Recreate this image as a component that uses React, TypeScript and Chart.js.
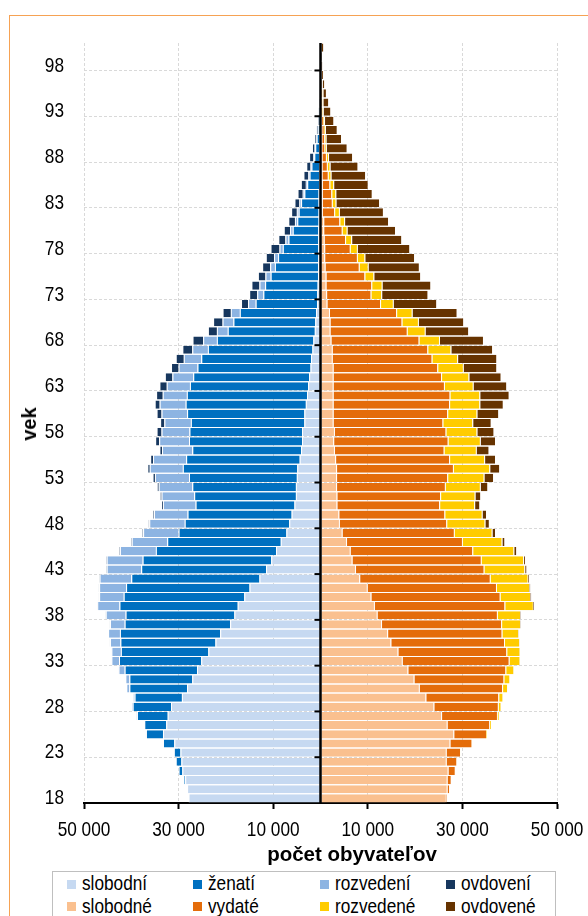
import React, { useEffect, useRef } from "react";
import { Chart, registerables } from "chart.js";

Chart.register(...registerables);

// ages 18 .. 100 (category axis, bottom to top)
const ages = [
  18, 19, 20, 21, 22, 23, 24, 25, 26, 27,
  28, 29, 30, 31, 32, 33, 34, 35, 36, 37,
  38, 39, 40, 41, 42, 43, 44, 45, 46, 47,
  48, 49, 50, 51, 52, 53, 54, 55, 56, 57,
  58, 59, 60, 61, 62, 63, 64, 65, 66, 67,
  68, 69, 70, 71, 72, 73, 74, 75, 76, 77,
  78, 79, 80, 81, 82, 83, 84, 85, 86, 87,
  88, 89, 90, 91, 92, 93, 94, 95, 96, 97,
  98, 99, 100,
];

// ages that carry a tick label
const tickAges = [18, 23, 28, 33, 38, 43, 48, 53, 58, 63, 68, 73, 78, 83, 88, 93, 98];

// x-axis range / step (thousands of people)
const xMin = -50;
const xMax = 50;
const xStep = 20;

// values in thousands of people, index = age 18 .. 100
const menSingle = [
  27.9, 28.2, 28.6, 29.2, 29.4, 29.6, 30.9, 33.3, 32.6, 32.3,
  31.6, 29.3, 28.2, 27.1, 26.1, 25.2, 23.7, 22.2, 21.2, 19.1,
  18.2, 17.5, 16.1, 15.0, 12.9, 11.5, 10.4, 9.4, 8.4, 7.2,
  6.6, 6.1, 5.5, 5.2, 5.2, 5.0, 4.9, 4.4, 4.1, 3.9,
  3.9, 3.4, 3.4, 3.1, 2.85, 2.6, 2.4, 2.1, 2.0, 1.7,
  1.5, 1.2, 1.1, 0.95, 0.7, 0.67, 0.6, 0.53, 0.53, 0.46,
  0.46, 0.46, 0.46, 0.4, 0.4, 0.4, 0.4, 0.3, 0.3, 0.3,
  0.25, 0.25, 0.2, 0.15, 0.1, 0.1, 0.05, 0.03, 0.02, 0.01,
  0.01, 0.005, 0.005,
];
const menMarried = [
  0.02, 0.05, 0.3, 0.8, 1.2, 1.4, 2.4, 3.6, 4.65, 6.5,
  8.1, 10.0, 12.2, 13.3, 15.3, 17.4, 18.5, 20.1, 21.2, 22.3,
  23.0, 25.0, 25.5, 26.1, 27.1, 26.4, 27.2, 25.4, 24.0, 22.8,
  22.1, 22.0, 20.9, 21.5, 21.9, 22.8, 24.2, 24.0, 23.0, 23.9,
  23.8, 24.0, 24.8, 25.4, 25.4, 25.0, 24.5, 23.9, 23.2, 22.1,
  20.4, 18.4, 17.3, 16.1, 13.0, 11.4, 11.1, 10.0, 9.1, 8.5,
  7.5, 6.3, 5.4, 4.5, 4.2, 3.7, 3.0, 2.5, 2.0, 1.6,
  1.05, 0.85, 0.6, 0.4, 0.25, 0.15, 0.1, 0.06, 0.04, 0.02,
  0.01, 0.01, 0,
];
const menDivorced = [
  0, 0, 0, 0, 0, 0.02, 0.03, 0.05, 0.08, 0.12,
  0.2, 0.35, 0.65, 0.85, 1.3, 1.6, 2.0, 2.2, 2.5, 3.1,
  4.2, 4.7, 5.2, 5.7, 6.7, 7.3, 7.6, 7.6, 7.5, 7.5,
  7.5, 7.1, 6.9, 6.9, 7.1, 7.2, 7.0, 7.0, 6.4, 6.3,
  5.9, 5.6, 5.4, 5.5, 5.1, 4.9, 4.4, 4.0, 3.7, 3.3,
  2.9, 2.3, 2.3, 1.9, 1.6, 1.3, 1.2, 1.1, 1.0, 0.85,
  0.7, 0.65, 0.55, 0.5, 0.4, 0.35, 0.35, 0.3, 0.25, 0.2,
  0.2, 0.15, 0.08, 0.05, 0.04, 0.02, 0.01, 0.01, 0, 0,
  0, 0, 0,
];
const menWidowed = [
  0, 0, 0, 0, 0, 0, 0, 0, 0, 0,
  0.01, 0.01, 0.02, 0.02, 0.03, 0.03, 0.04, 0.05, 0.05, 0.06,
  0.07, 0.08, 0.09, 0.1, 0.1, 0.12, 0.13, 0.15, 0.15, 0.2,
  0.2, 0.2, 0.35, 0.35, 0.4, 0.5, 0.5, 0.6, 0.55, 0.85,
  1.05, 0.9, 1.05, 1.05, 1.4, 1.55, 1.6, 1.6, 1.7, 2.1,
  2.25, 1.9, 2.0, 1.75, 1.5, 1.7, 1.7, 1.6, 1.7, 1.75,
  1.9, 1.5, 1.35, 1.4, 1.2, 1.05, 1.1, 1.05, 1.05, 0.9,
  0.9, 0.55, 0.4, 0.3, 0.2, 0.15, 0.1, 0.07, 0.04, 0.03,
  0.02, 0.01, 0.01,
];
const womenSingle = [
  26.5, 26.7, 26.7, 26.9, 26.5, 26.5, 27.3, 28.1, 26.7, 25.5,
  23.9, 22.2, 20.8, 19.7, 18.4, 17.2, 16.3, 14.8, 14.1, 12.8,
  11.9, 11.3, 10.6, 9.8, 8.2, 7.3, 6.6, 6.2, 5.4, 4.5,
  3.9, 3.8, 3.4, 3.4, 3.3, 3.3, 3.3, 3.1, 2.85, 2.7,
  2.85, 2.6, 2.6, 2.6, 2.6, 2.6, 2.6, 2.6, 2.4, 2.4,
  2.15, 1.95, 1.95, 1.8, 1.3, 1.2, 1.1, 1.1, 0.9, 0.8,
  0.8, 0.7, 0.6, 0.6, 0.3, 0.3, 0.3, 0.3, 0.25, 0.25,
  0.25, 0.2, 0.2, 0.2, 0.15, 0.1, 0.1, 0.1, 0.07, 0.05,
  0.03, 0.02, 0.02,
];
const womenMarried = [
  0.2, 0.5, 0.85, 1.5, 2.25, 3.0, 4.65, 6.9, 9.0, 11.8,
  13.6, 15.4, 17.6, 19.0, 20.7, 22.6, 23.0, 24.0, 24.2, 25.4,
  25.4, 27.6, 27.3, 27.3, 27.6, 27.2, 27.3, 25.9, 24.5, 23.7,
  22.7, 22.4, 21.7, 21.9, 23.0, 23.5, 24.7, 24.1, 23.2, 24.2,
  23.6, 23.2, 24.2, 24.6, 24.7, 23.5, 22.9, 22.1, 21.1, 20.2,
  18.6, 16.3, 15.2, 14.2, 11.3, 9.4, 9.65, 8.2, 7.2, 6.9,
  5.4, 4.5, 3.9, 3.4, 2.6, 2.1, 2.0, 1.6, 1.3, 1.1,
  0.9, 0.65, 0.6, 0.5, 0.4, 0.25, 0.25, 0.25, 0.15, 0.07,
  0.03, 0.02, 0.02,
];
const womenDivorced = [
  0, 0, 0.02, 0.05, 0.05, 0.05, 0.1, 0.2, 0.35, 0.4,
  0.6, 0.9, 1.05, 1.25, 1.7, 2.3, 2.8, 3.2, 3.5, 4.0,
  4.9, 6.0, 6.4, 7.0, 8.0, 8.6, 8.95, 8.7, 8.4, 8.0,
  8.1, 7.9, 7.4, 7.3, 7.4, 7.7, 7.7, 7.4, 6.8, 6.8,
  6.55, 6.3, 6.2, 6.4, 6.3, 6.1, 5.8, 5.4, 5.4, 4.9,
  4.3, 3.8, 3.45, 3.3, 2.7, 2.25, 2.2, 1.9, 1.9, 1.6,
  1.5, 1.3, 1.05, 1.0, 1.0, 0.8, 0.85, 0.8, 0.6, 0.6,
  0.45, 0.3, 0.3, 0.25, 0.2, 0.15, 0.1, 0.1, 0.08, 0.03,
  0.02, 0.01, 0.01,
];
const womenWidowed = [
  0, 0, 0, 0, 0, 0, 0.01, 0.01, 0.01, 0.02,
  0.02, 0.03, 0.03, 0.04, 0.05, 0.06, 0.07, 0.08, 0.1, 0.12,
  0.15, 0.25, 0.25, 0.25, 0.3, 0.45, 0.4, 0.6, 0.6, 0.7,
  0.9, 0.9, 1.1, 1.2, 1.6, 2.0, 2.1, 2.3, 2.7, 3.2,
  3.6, 3.9, 4.6, 4.95, 6.2, 7.1, 6.8, 7.1, 8.3, 8.8,
  9.3, 9.2, 9.6, 9.5, 9.2, 9.8, 10.3, 9.9, 10.8, 10.5,
  11.1, 10.6, 10.2, 9.3, 9.3, 9.2, 7.7, 7.3, 7.3, 5.9,
  5.1, 4.4, 3.25, 2.5, 2.0, 1.6, 1.2, 0.7, 0.5, 0.4,
  0.3, 0.2, 0.55,
];

const seriesLabels = [
  "slobodní", "ženatí", "rozvedení", "ovdovení",
  "slobodné", "vydaté", "rozvedené", "ovdovené",
];
const seriesColors = [
  "#C6D9F1", "#0070C0", "#8DB4E2", "#17375E",
  "#FAC08F", "#E46C0A", "#FFCC00", "#663300",
];

const SANS = "'Liberation Sans', Arial, sans-serif";
// Arial Narrow is Arial at ~82% width: emulate with a horizontal squeeze
const NARROW_SCALE = 0.82;
const TICK_FONT = `21px ${SANS}`;

const fmt = (v: number) =>
  String(Math.round(Math.abs(v) * 1000)).replace(/\B(?=(\d{3})+(?!\d))/g, " ");

function narrowText(ctx: CanvasRenderingContext2D, text: string, x: number, y: number, align: CanvasTextAlign) {
  ctx.save();
  ctx.translate(x, y);
  ctx.scale(NARROW_SCALE, 1);
  ctx.textAlign = align;
  ctx.textBaseline = "middle";
  ctx.fillText(text, 0, 0);
  ctx.restore();
}

const centerAxis = {
  id: "centerAxis",
  afterDatasetsDraw(chart: any) {
    const { ctx, chartArea, scales } = chart;
    const x0 = scales.x.getPixelForValue(0);
    ctx.save();
    ctx.strokeStyle = "#000";
    ctx.lineWidth = 2.5;
    ctx.beginPath();
    ctx.moveTo(x0, chartArea.top);
    ctx.lineTo(x0, chartArea.bottom);
    ctx.stroke();
    ctx.lineWidth = 2;
    tickAges.forEach((a) => {
      const i = ages.indexOf(a);
      if (i <= 0) return;
      const y = (scales.y.getPixelForValue(i) + scales.y.getPixelForValue(i - 1)) / 2;
      ctx.beginPath();
      ctx.moveTo(x0 - 6, y);
      ctx.lineTo(x0, y);
      ctx.stroke();
    });
    ctx.restore();
  },
  afterDraw(chart: any) {
    const { ctx, chartArea, scales } = chart;
    ctx.save();
    ctx.fillStyle = "#000";
    ctx.font = TICK_FONT;
    // x tick labels
    scales.x.ticks.forEach((t: any) => {
      narrowText(ctx, fmt(t.value), scales.x.getPixelForValue(t.value), scales.x.top + 27, "center");
    });
    // y tick labels
    tickAges.forEach((a) => {
      const i = ages.indexOf(a);
      narrowText(ctx, String(a), chartArea.left - 20, scales.y.getPixelForValue(i), "right");
    });
    ctx.restore();
  },
};

export default function App() {
  const ref = useRef<HTMLCanvasElement | null>(null);

  useEffect(() => {
    if (!ref.current) return;
    const men = [menSingle, menMarried, menDivorced, menWidowed];
    const women = [womenSingle, womenMarried, womenDivorced, womenWidowed];
    const all = [
      ...men.map((arr) => arr.map((v) => -v)),
      ...women.map((arr) => arr.slice()),
    ];
    const tickIdx = tickAges.map((a) => ages.indexOf(a));
    const chart = new Chart(ref.current, {
      type: "bar",
      data: {
        labels: ages.map(String),
        datasets: all.map((d, k) => ({
          label: seriesLabels[k],
          data: d,
          backgroundColor: seriesColors[k],
          borderColor: "#FFFFFF",
          borderWidth: { left: 1, right: 0, top: 0, bottom: 0 },
          borderSkipped: false,
          stack: "pop",
          barPercentage: 0.89,
          categoryPercentage: 1.0,
        })),
      },
      options: {
        indexAxis: "y",
        responsive: false,
        maintainAspectRatio: false,
        animation: false,
        devicePixelRatio: 1,
        layout: { padding: { top: 43, right: 31, bottom: 0, left: 0 } },
        plugins: {
          legend: { display: false },
          tooltip: { enabled: false },
          title: { display: false },
        },
        scales: {
          x: {
            type: "linear",
            stacked: true,
            min: xMin,
            max: xMax,
            afterFit: (s: any) => {
              s.height = 113;
              s.paddingLeft = 0;
              s.paddingRight = 0;
            },
            afterBuildTicks: (s: any) => {
              const t = [];
              for (let v = xMin; v <= xMax; v += xStep) t.push({ value: v });
              s.ticks = t;
            },
            ticks: { display: false },
            grid: {
              color: "#D9D9D9",
              lineWidth: 1,
              drawTicks: true,
              tickLength: 6,
              tickColor: "#000",
              tickWidth: 2,
              tickBorderDash: [],
            },
            border: { display: true, color: "#000", width: 2, dash: [3, 2] },
          },
          y: {
            type: "category",
            stacked: true,
            reverse: true,
            offset: true,
            afterFit: (s: any) => {
              s.width = 84;
            },
            ticks: { display: false, autoSkip: false },
            grid: {
              offset: true,
              drawTicks: false,
              lineWidth: 1,
              color: (c: any) =>
                typeof c.index === "number" && c.index > 0 && tickIdx.includes(c.index)
                  ? "#D9D9D9"
                  : "rgba(0,0,0,0)",
            },
            border: { display: false, dash: [3, 2] },
          },
        },
      },
      plugins: [centerAxis],
    } as any);
    return () => chart.destroy();
  }, []);

  const legendCols = [66.5, 193, 319.5, 446];
  const legendRows = [884, 906.5];

  return (
    <div
      style={{
        position: "absolute",
        left: 0,
        top: 0,
        width: 588,
        height: 916,
        overflow: "hidden",
        background: "#fff",
      }}
    >
      <div
        style={{
          position: "absolute",
          left: 9,
          top: 15,
          width: 620,
          height: 940,
          border: "1.5px solid #F6A254",
          boxSizing: "border-box",
        }}
      />
      <canvas
        ref={ref}
        width={588}
        height={916}
        style={{ position: "absolute", left: 0, top: 0, width: 588, height: 916 }}
      />
      <div
        style={{
          position: "absolute",
          left: 29,
          top: 424,
          transform: "translate(-50%, -50%) rotate(-90deg)",
          font: `bold 20px ${SANS}`,
          lineHeight: "20px",
          color: "#000",
          whiteSpace: "nowrap",
        }}
      >
        vek
      </div>
      <div
        style={{
          position: "absolute",
          left: 352,
          top: 844,
          transform: "translateX(-50%)",
          font: `bold 20.5px ${SANS}`,
          lineHeight: "20px",
          color: "#000",
          whiteSpace: "nowrap",
        }}
      >
        počet obyvateľov
      </div>
      <div
        style={{
          position: "absolute",
          left: 52,
          top: 871,
          width: 504,
          height: 70,
          border: "1px solid #BFBFBF",
          boxSizing: "border-box",
          background: "#fff",
        }}
      />
      {seriesLabels.map((lab, k) => {
        const col = k % 4;
        const row = Math.floor(k / 4);
        const cx = legendCols[col];
        const cy = legendRows[row];
        return (
          <React.Fragment key={lab}>
            <div
              style={{
                position: "absolute",
                left: cx,
                top: cy - 4.5,
                width: 9,
                height: 9,
                background: seriesColors[k],
              }}
            />
            <div
              style={{
                position: "absolute",
                left: cx + 15,
                top: cy - 12,
                font: `21px ${SANS}`,
                lineHeight: "22px",
                color: "#000",
                whiteSpace: "nowrap",
                transform: `scaleX(${NARROW_SCALE})`,
                transformOrigin: "0 50%",
              }}
            >
              {lab}
            </div>
          </React.Fragment>
        );
      })}
    </div>
  );
}
